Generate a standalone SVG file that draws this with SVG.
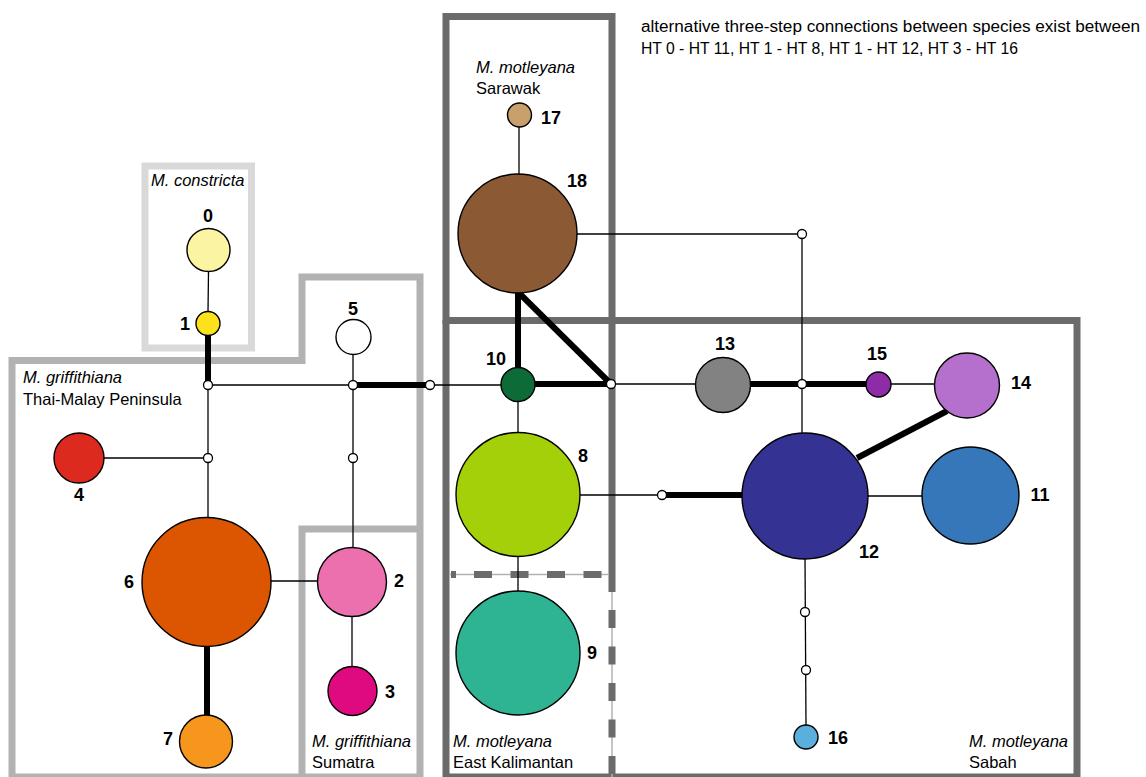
<svg xmlns="http://www.w3.org/2000/svg" width="1146" height="777" viewBox="0 0 1146 777">
<style>
.bg{fill:#ffffff}
.reg{fill:none;stroke-width:7}
.lg{stroke:#d9d9d9}
.mg{stroke:#b2b2b2}
.dg{stroke:#6b6b6b}
.thinref{stroke:#b2b2b2;stroke-width:1.5;fill:none}
.dash{stroke:#6b6b6b;stroke-width:7;stroke-dasharray:18 18.5;fill:none}
.thin{stroke:#000;stroke-width:1.3;fill:none}
.thick{stroke:#000;stroke-width:6;fill:none}
.node{stroke:#000;stroke-width:1.4}
.jn{fill:#fff;stroke:#000;stroke-width:1.3}
.num{font-family:"Liberation Sans",Arial,sans-serif;font-weight:bold;font-size:18px;fill:#000;text-anchor:middle}
.it{font-family:"Liberation Sans",Arial,sans-serif;font-style:italic;font-size:16.5px;fill:#000}
.rm{font-family:"Liberation Sans",Arial,sans-serif;font-size:16.5px;fill:#000}
.note{font-family:"Liberation Sans",Arial,sans-serif;font-size:16px;fill:#000}
</style>
<rect class="bg" x="0" y="0" width="1146" height="777"/>
<g id="regions">
  <rect class="reg lg" x="145" y="166" width="106.5" height="182"/>
  <path class="reg mg" d="M12,780 V360.5 H302 V277 H420 V780 M302,780 V529 H420 M12,777 H420"/>
  <rect class="reg dg" x="446" y="16.5" width="166" height="304"/>
  <path class="reg dg" d="M446,320.5 V780 M612,320.5 V592 M446,320.5 H1077 V780 M446,777 H1077"/>
  <line class="thinref" x1="612" y1="592" x2="612" y2="777"/>
  <line class="dash" x1="612" y1="610" x2="612" y2="777"/>
  <line class="thinref" x1="449" y1="574.5" x2="609" y2="574.5"/>
  <line class="dash" x1="451" y1="574.5" x2="609" y2="574.5" style="stroke-dasharray:5 18 18 18.5 18 18.5 18 18.5 18 18.5"/>
</g>
<g id="connectors">
  <line class="thin" x1="208.5" y1="272" x2="208" y2="312"/>
  <line class="thick" x1="208" y1="335" x2="208" y2="385"/>
  <line class="thin" x1="208" y1="385" x2="208" y2="518"/>
  <line class="thin" x1="104" y1="458" x2="208" y2="458"/>
  <line class="thick" x1="207" y1="645" x2="207" y2="716"/>
  <line class="thin" x1="208" y1="385" x2="353" y2="385"/>
  <line class="thick" x1="353" y1="385" x2="430" y2="385"/>
  <line class="thin" x1="430" y1="385" x2="502" y2="385"/>
  <line class="thin" x1="353" y1="354" x2="353" y2="548"/>
  <line class="thin" x1="271" y1="581" x2="318" y2="581"/>
  <line class="thin" x1="352" y1="616" x2="352" y2="667"/>
  <line class="thin" x1="518" y1="401" x2="518" y2="433"/>
  <line class="thin" x1="518" y1="556" x2="518" y2="592"/>
  <line class="thin" x1="519" y1="127" x2="519" y2="175"/>
  <line class="thick" x1="518" y1="292" x2="518" y2="368"/>
  <line class="thick" x1="518" y1="292" x2="611" y2="384"/>
  <line class="thick" x1="534" y1="384" x2="611" y2="384"/>
  <line class="thin" x1="576" y1="234" x2="802" y2="234"/>
  <line class="thin" x1="802" y1="234" x2="802" y2="434"/>
  <line class="thin" x1="611" y1="384" x2="696" y2="384"/>
  <line class="thick" x1="750" y1="384" x2="867" y2="384"/>
  <line class="thin" x1="890" y1="384" x2="935" y2="384"/>
  <line class="thin" x1="579" y1="495" x2="662" y2="495"/>
  <line class="thick" x1="662" y1="495" x2="743" y2="495"/>
  <line class="thick" x1="857" y1="458" x2="947" y2="411"/>
  <line class="thin" x1="867" y1="496" x2="923" y2="496"/>
  <line class="thin" x1="805" y1="558" x2="806" y2="726"/>
</g>
<g id="node0"><circle class="node" cx="208.5" cy="250" r="21.5" fill="#faf4a3"/><text class="num" x="208" y="222">0</text></g>
<g id="node1"><circle class="node" cx="208" cy="323.5" r="12" fill="#fde11c"/><text class="num" x="185" y="330">1</text></g>
<g id="node2"><circle class="node" cx="352" cy="582" r="34.5" fill="#ec6fae"/><text class="num" x="399" y="587">2</text></g>
<g id="node3"><circle class="node" cx="352.5" cy="691" r="24.5" fill="#e00a80"/><text class="num" x="390" y="698">3</text></g>
<g id="node4"><circle class="node" cx="79" cy="458" r="25" fill="#dc2a1f"/><text class="num" x="79" y="501">4</text></g>
<g id="node5"><circle class="node" cx="353.5" cy="337" r="17.5" fill="#ffffff"/><text class="num" x="353" y="315">5</text></g>
<g id="node6"><circle class="node" cx="206.5" cy="582" r="64.5" fill="#dc5601"/><text class="num" x="129" y="588">6</text></g>
<g id="node7"><circle class="node" cx="206" cy="741.5" r="26.5" fill="#f6961d"/><text class="num" x="168" y="745">7</text></g>
<g id="node8"><circle class="node" cx="518" cy="494.5" r="62" fill="#a3d008"/><text class="num" x="583" y="462">8</text></g>
<g id="node9"><circle class="node" cx="518" cy="653" r="62" fill="#2eb493"/><text class="num" x="592" y="659">9</text></g>
<g id="node10"><circle class="node" cx="518" cy="384.5" r="17" fill="#0d6b38"/><text class="num" x="496" y="365">10</text></g>
<g id="node11"><circle class="node" cx="970.5" cy="495.5" r="48.5" fill="#3677b9"/><text class="num" x="1040" y="501">11</text></g>
<g id="node12"><circle class="node" cx="805" cy="496" r="63" fill="#343293"/><text class="num" x="869" y="558">12</text></g>
<g id="node13"><circle class="node" cx="723" cy="385" r="27.5" fill="#828282"/><text class="num" x="725" y="350">13</text></g>
<g id="node14"><circle class="node" cx="967" cy="385.5" r="32.5" fill="#b56fcc"/><text class="num" x="1021" y="389">14</text></g>
<g id="node15"><circle class="node" cx="878.5" cy="384.5" r="12.5" fill="#8e2ca8"/><text class="num" x="877" y="360">15</text></g>
<g id="node16"><circle class="node" cx="806" cy="737" r="12" fill="#5aafdc"/><text class="num" x="838" y="744">16</text></g>
<g id="node17"><circle class="node" cx="519.5" cy="115" r="12" fill="#c8a06b"/><text class="num" x="551" y="124">17</text></g>
<g id="node18"><circle class="node" cx="517.5" cy="233.5" r="59.5" fill="#8b5a35"/><text class="num" x="577" y="187">18</text></g>
<g id="junctions">
  <circle class="jn" cx="208" cy="385" r="4.5"/>
  <circle class="jn" cx="208" cy="458" r="4.5"/>
  <circle class="jn" cx="353" cy="385" r="4.5"/>
  <circle class="jn" cx="353" cy="458" r="4.5"/>
  <circle class="jn" cx="430" cy="385" r="4.5"/>
  <circle class="jn" cx="611" cy="384" r="4.5"/>
  <circle class="jn" cx="802" cy="234" r="4.5"/>
  <circle class="jn" cx="802" cy="384" r="4.5"/>
  <circle class="jn" cx="662" cy="495" r="4.5"/>
  <circle class="jn" cx="805" cy="612" r="4.5"/>
  <circle class="jn" cx="806" cy="670" r="4.5"/>
</g>
<g id="labels">
  <text class="it" x="151" y="186">M. constricta</text>
  <text class="it" x="23" y="383">M. griffithiana</text>
  <text class="rm" x="23" y="405">Thai-Malay Peninsula</text>
  <text class="it" x="476" y="73">M. motleyana</text>
  <text class="rm" x="476" y="94">Sarawak</text>
  <text class="it" x="312" y="747">M. griffithiana</text>
  <text class="rm" x="312" y="768">Sumatra</text>
  <text class="it" x="453" y="747">M. motleyana</text>
  <text class="rm" x="453" y="768">East Kalimantan</text>
  <text class="it" x="969" y="747">M. motleyana</text>
  <text class="rm" x="969" y="768">Sabah</text>
  <text class="note" x="641" y="32" textLength="499" lengthAdjust="spacingAndGlyphs">alternative three-step connections between species exist between</text>
  <text class="note" x="641" y="54" textLength="377" lengthAdjust="spacingAndGlyphs">HT 0 - HT 11, HT 1 - HT 8, HT 1 - HT 12, HT 3 - HT 16</text>
</g>
</svg>
